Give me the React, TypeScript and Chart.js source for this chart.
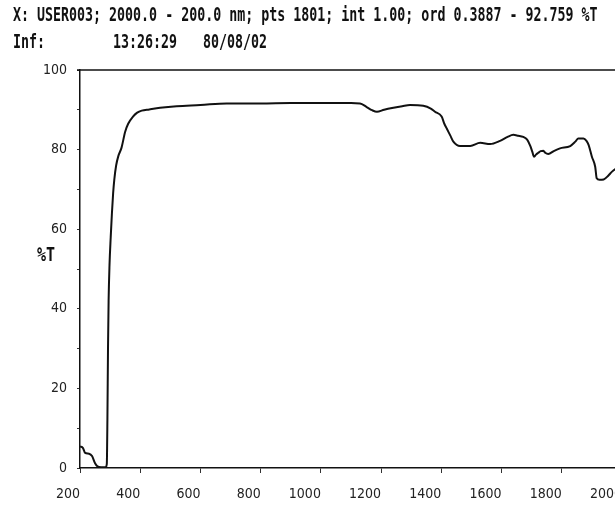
import React, { useEffect, useRef } from "react";
import { Chart, registerables } from "chart.js";

Chart.register(...registerables);

const wavelengths = [
  200, 210, 217, 230, 240, 250, 258, 270, 285, 289, 291, 293, 295, 298, 302, 306, 310, 314, 320, 327,
  338, 350, 360, 376, 390, 405, 430, 466, 521, 600, 687, 800, 900, 1000, 1100, 1130, 1152, 1170,
  1186, 1210, 1241, 1270, 1296, 1340, 1365, 1379, 1401, 1410, 1418, 1430, 1440, 1462, 1496, 1529,
  1562, 1595, 1620, 1639, 1655, 1672, 1685, 1695, 1702, 1708, 1715, 1722, 1730, 1739, 1745, 1755,
  1775, 1794, 1828, 1845, 1855, 1872, 1882, 1889, 1900, 1911, 1916, 1925, 1939, 1955, 1966, 1980, 2000,
];
const transmittance = [
  5.4, 5.0, 3.8, 3.6, 3.0, 1.2, 0.4, 0.2, 0.2, 1.0, 12, 30, 42, 51, 58, 64, 69, 72.5, 76, 78.3,
  80.5, 84.5, 86.5, 88.3, 89.3, 89.8, 90.1, 90.5, 90.9, 91.2, 91.6, 91.6, 91.7, 91.7, 91.7, 91.6, 90.7, 89.9,
  89.5, 90.0, 90.5, 90.9, 91.2, 91.0, 90.3, 89.5, 88.3, 86.5, 85.3, 83.5, 82.0, 80.9, 80.9, 81.7,
  81.4, 82.2, 83.2, 83.7, 83.5, 83.2, 82.5, 81.0, 79.5, 78.2, 78.8, 79.2, 79.6, 79.7, 79.2, 78.9,
  79.7, 80.3, 80.9, 82.0, 82.8, 82.8, 82.2, 81.2, 78.2, 75.7, 72.8, 72.4, 72.5, 73.5, 74.4, 75.2, 76.0,
];

const xMin = 200;
const xMax = 2000;
const xStep = 200;
const yMin = 0;
const yMax = 100;
const yStep = 10;
const yLabelEvery = 20;

const headerLine1 = "X: USER003; 2000.0 - 200.0 nm; pts 1801; int 1.00; ord 0.3887 - 92.759 %T";
const headerInf = "Inf:";
const headerTime = "13:26:29";
const headerDate = "80/08/02";
const yTitle = "%T";

const tickFont = { family: "'DejaVu Sans Condensed', 'Liberation Sans Narrow', sans-serif", size: 14 };

const topBorder = {
  id: "topBorder",
  afterDraw(chart: any) {
    const { ctx, chartArea } = chart;
    ctx.save();
    ctx.strokeStyle = "#111";
    ctx.lineWidth = 1.5;
    ctx.beginPath();
    ctx.moveTo(chartArea.left - 3, chartArea.top);
    ctx.lineTo(chartArea.right + 40, chartArea.top);
    ctx.stroke();
    ctx.restore();
  },
};

const headerStyle: React.CSSProperties = {
  position: "absolute",
  fontFamily: "'DejaVu Sans Mono', monospace",
  fontWeight: "bold",
  fontSize: "20px",
  lineHeight: "20px",
  color: "#111",
  whiteSpace: "pre",
  transformOrigin: "0 0",
  transform: "scaleX(0.665)",
};

export default function App() {
  const canvasRef = useRef<HTMLCanvasElement | null>(null);

  useEffect(() => {
    const canvas = canvasRef.current;
    if (!canvas) return;
    const points = wavelengths.map((w, i) => ({ x: w, y: transmittance[i] }));
    const chart = new Chart(canvas, {
      type: "line",
      data: {
        datasets: [
          {
            data: points,
            borderColor: "#111",
            borderWidth: 2,
            pointRadius: 0,
            cubicInterpolationMode: "monotone",
            fill: false,
          },
        ],
      },
      options: {
        animation: false,
        responsive: false,
        maintainAspectRatio: false,
        layout: { padding: { top: 70, left: 0, right: 38, bottom: 0 } },
        plugins: { legend: { display: false }, tooltip: { enabled: false }, title: { display: false } },
        scales: {
          x: {
            type: "linear",
            min: xMin,
            max: xMax,
            afterFit: (s: any) => {
              s.height = 60;
            },
            ticks: {
              stepSize: xStep,
              align: "end",
              padding: 13,
              color: "#222",
              font: tickFont,
              maxRotation: 0,
              autoSkip: false,
              callback: (v: any) => String(v),
            },
            grid: { drawOnChartArea: false, tickLength: 5, color: "#333", lineWidth: 1 },
            border: { color: "#111", width: 1.5 },
          },
          y: {
            type: "linear",
            min: yMin,
            max: yMax,
            afterFit: (s: any) => {
              s.width = 80;
            },
            ticks: {
              stepSize: yStep,
              padding: 10,
              color: "#222",
              font: tickFont,
              autoSkip: false,
              callback: (v: any) => (Number(v) % yLabelEvery === 0 ? String(v) : ""),
            },
            grid: { drawOnChartArea: false, tickLength: 3, color: "#333", lineWidth: 1 },
            border: { color: "#111", width: 1.5 },
          },
        },
      },
      plugins: [topBorder],
    });
    return () => chart.destroy();
  }, []);

  return (
    <div
      style={{
        position: "fixed",
        left: 0,
        top: 0,
        width: 615,
        height: 528,
        overflow: "hidden",
        background: "#fff",
      }}
    >
      <canvas ref={canvasRef} width={660} height={528} style={{ position: "absolute", left: 0, top: 0, width: 660, height: 528 }} />
      <div style={{ ...headerStyle, left: 13, top: 4 }}>{headerLine1}</div>
      <div style={{ ...headerStyle, left: 13, top: 31 }}>{headerInf}</div>
      <div style={{ ...headerStyle, left: 113, top: 31 }}>{headerTime}</div>
      <div style={{ ...headerStyle, left: 203, top: 31 }}>{headerDate}</div>
      <div style={{ ...headerStyle, left: 37, top: 244, transform: "scaleX(0.75)" }}>{yTitle}</div>
    </div>
  );
}
